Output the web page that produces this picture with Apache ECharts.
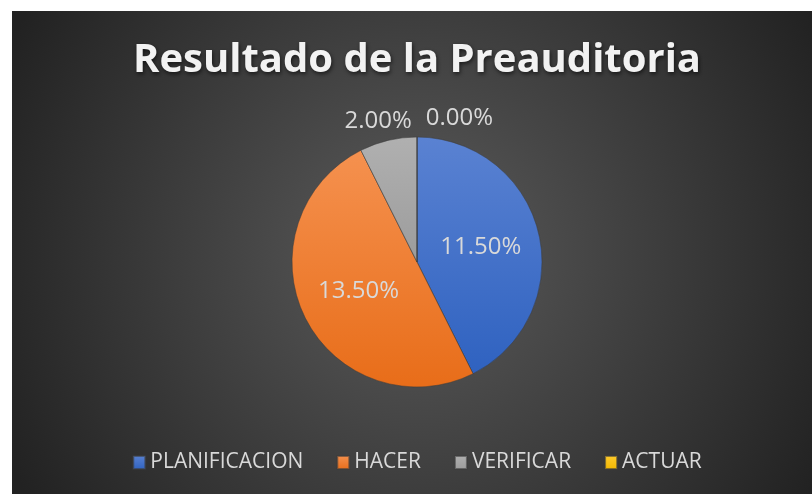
<!DOCTYPE html>
<html>
<head>
<meta charset="utf-8">
<script src="https://cdn.jsdelivr.net/npm/echarts@6/dist/echarts.min.js"></script>
<style>
    html, body { margin: 0; padding: 0; background: #ffffff; overflow: hidden; }
    #main { position: absolute; left: 12px; top: 11px; width: 810px; height: 483px; }
</style>
</head>
<body>
<div id="main"></div>
<script>
    // datos del grafico
    var categorias = ['PLANIFICACION', 'HACER', 'VERIFICAR', 'ACTUAR'];
    var valores = [11.5, 13.5, 2.0, 0.0];
    var colores = [
        ['#5a82d2', '#2f62c0'],
        ['#f5914f', '#e86d19'],
        ['#b0b0b0', '#9c9c9c'],
        ['#ffcb2e', '#f2b800']
    ];

    var myChart = echarts.init(document.getElementById('main'));

    var datos = categorias.map(function (nombre, i) {
        var item = {
            name: nombre,
            value: valores[i],
            itemStyle: {
                color: new echarts.graphic.LinearGradient(0, 0, 0, 1, [
                    { offset: 0, color: colores[i][0] },
                    { offset: 1, color: colores[i][1] }
                ])
            }
        };
        // las etiquetas pequenas van fuera del circulo
        if (i >= 2) {
            item.label = { position: 'outside' };
        }
        return item;
    });

    var option = {
        backgroundColor: {
            type: 'radial', x: 0.5, y: 0.5, r: 0.95,
            colorStops: [
                { offset: 0, color: '#5b5b5b' },
                { offset: 1, color: '#222222' }
            ]
        },
        title: {
            text: 'Resultado de la Preauditoria',
            left: 'center',
            top: 25,
            textStyle: {
                fontFamily: 'Open Sans',
                fontWeight: 'bold',
                fontSize: 40,
                color: '#f2f2f2',
                textShadowColor: 'rgba(0,0,0,0.6)',
                textShadowBlur: 4,
                textShadowOffsetX: 1,
                textShadowOffsetY: 2
            }
        },
        legend: {
            data: categorias,
            top: 436,
            left: 'center',
            itemWidth: 12,
            itemHeight: 13,
            itemGap: 33,
            icon: 'rect',
            textStyle: {
                fontFamily: 'Open Sans',
                fontSize: 21,
                color: '#d9d9d9'
            }
        },
        series: [{
            type: 'pie',
            center: ['50%', 251],
            radius: 125,
            startAngle: 90,
            clockwise: true,
            avoidLabelOverlap: false,
            itemStyle: {
                borderColor: 'rgba(60,60,60,0.6)',
                borderWidth: 0.5
            },
            label: {
                position: 'inside',
                formatter: function (p) { return p.value.toFixed(2) + '%'; },
                fontFamily: 'Open Sans',
                fontSize: 24,
                color: '#d9d9d9'
            },
            labelLine: { show: false, length: 10, length2: 0 },
            labelLayout: function (p) {
                if (p.dataIndex === 2) { return { dx: 31, dy: -9 }; }
                if (p.dataIndex === 3) { return { dx: 81, dy: -9 }; }
                return {};
            },
            data: datos
        }]
    };

    myChart.setOption(option);
</script>
</body>
</html>
